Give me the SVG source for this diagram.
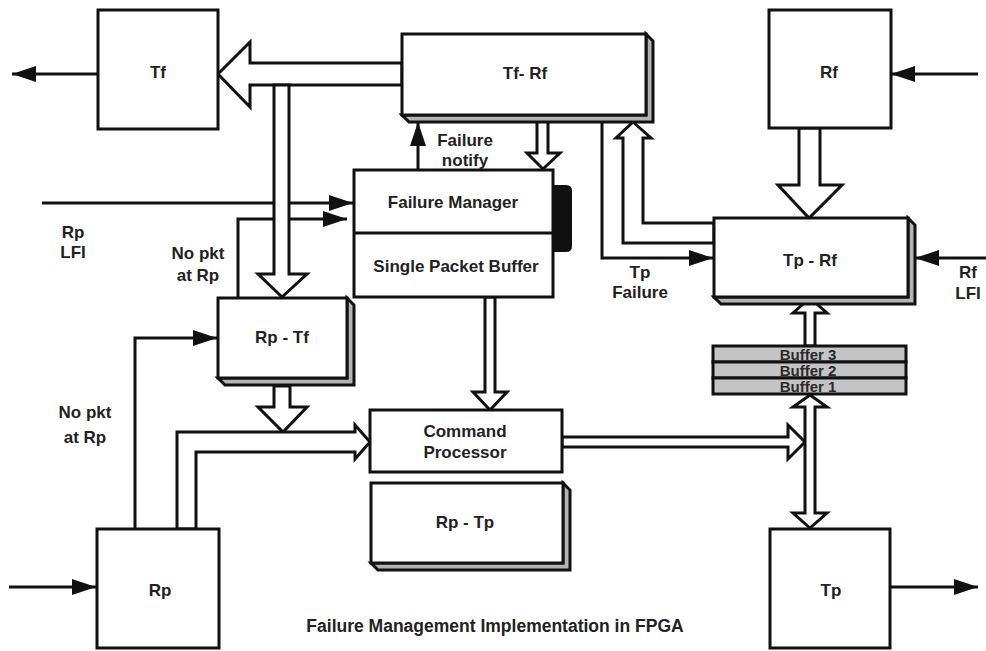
<svg xmlns="http://www.w3.org/2000/svg" width="986" height="651" viewBox="0 0 986 651">
  <style>
    .box { fill: #ffffff; stroke: #111111; stroke-width: 3; }
    .shadow { fill: #b4b4b4; stroke: #111111; stroke-width: 3; stroke-linejoin: miter; }
    .buf { fill: #c4c4c4; stroke: #111111; stroke-width: 3; }
    .wire { fill: none; stroke: #111111; stroke-width: 3; }
    .hollow { fill: #ffffff; stroke: #111111; stroke-width: 3; stroke-linejoin: miter; }
    .lbl { font-family: "Liberation Sans", Arial, sans-serif; font-weight: bold; font-size: 17px; fill: #222222; text-anchor: middle; dominant-baseline: central; }
    .small { font-size: 15px; fill: #2a2a2a; }
    .cap { font-size: 17.5px; }
  </style>
  <defs>
    <marker id="head" viewBox="0 0 24 16" refX="24" refY="8" markerWidth="24" markerHeight="16" markerUnits="userSpaceOnUse" orient="auto">
      <path d="M0,0 L24,8 L0,16 Z" fill="#111111"/>
    </marker>
  </defs>

  <rect width="986" height="651" fill="#ffffff"/>

  <!-- thin signal lines (drawn first so the wide data paths sit on top) -->
  <g id="connectors">
    <line class="wire" x1="98" y1="74" x2="12" y2="74" marker-end="url(#head)"/>
    <line class="wire" x1="978" y1="74" x2="891" y2="74" marker-end="url(#head)"/>
    <line class="wire" x1="42" y1="203" x2="353" y2="203" marker-end="url(#head)"/>
    <polyline class="wire" points="238,298 238,219 347,219" marker-end="url(#head)"/>
    <line class="wire" x1="418" y1="170" x2="418" y2="122" marker-end="url(#head)"/>
    <polyline class="wire" points="602,121 602,258 713,258" marker-end="url(#head)"/>
    <line class="wire" x1="986" y1="258" x2="915" y2="258" marker-end="url(#head)"/>
    <polyline class="wire" points="135,529 135,338 217,338" marker-end="url(#head)"/>
    <line class="wire" x1="9" y1="587" x2="96" y2="587" marker-end="url(#head)"/>
    <line class="wire" x1="890" y1="587" x2="978" y2="587" marker-end="url(#head)"/>

    <!-- wide data paths -->
    <polygon class="hollow" points="218,74 250,42 250,63 402,63 402,85 250,85 250,107"/>
    <polygon class="hollow" points="274,85 274,274 258,274 282,297 307,274 289,274 289,85"/>
    <polygon class="hollow" points="274,386 274,407 258,407 283,432 307,407 290,407 290,386"/>
    <polygon class="hollow" points="177,529 177,432 355,432 355,425 370,442 355,459 355,452 196,452 196,529"/>
    <polygon class="hollow" points="537,121 537,153 527,153 543,169 560,153 548,153 548,121"/>
    <polygon class="hollow" points="485,297 485,392 473,392 490,410 507,392 495,392 495,297"/>
    <polygon class="hollow" points="633,122 651,138 643,138 643,223 714,223 714,243 623,243 623,138 616,138"/>
    <polygon class="hollow" points="799,128 799,185 778,185 809,218 842,185 820,185 820,128"/>
    <polygon class="hollow" points="562,437 788,437 788,425 805,442 788,459 788,447 562,447"/>
    <polygon class="hollow" points="810,395 827,407 815,407 815,513 827,513 810,528 793,513 805,513 805,407 793,407"/>
    <polygon class="hollow" points="805,346 805,313 793,313 810,298 827,313 815,313 815,346"/>
  </g>

  <g id="tf">
    <rect class="box" x="98" y="10" width="120" height="119"/>
    <text class="lbl" x="158" y="72">Tf</text>
  </g>

  <g id="tf-rf">
    <polygon class="shadow" points="646,34 653,41 653,122 409,122 402,115 646,115"/>
    <rect class="box" x="402" y="34" width="244" height="81"/>
    <text class="lbl" x="525" y="73">Tf- Rf</text>
  </g>

  <g id="rf">
    <rect class="box" x="769" y="10" width="122" height="118"/>
    <text class="lbl" x="829" y="72">Rf</text>
  </g>

  <g id="failure-manager">
    <path d="M553,185 H566 Q572,185 572,191 V246 Q572,252 566,252 H553 Z" fill="#111111"/>
    <rect class="box" x="354" y="170" width="199" height="127"/>
    <line class="wire" x1="354" y1="233" x2="553" y2="233"/>
    <text class="lbl" x="453" y="202">Failure Manager</text>
    <text class="lbl" x="456" y="266">Single Packet Buffer</text>
  </g>

  <g id="tp-rf">
    <polygon class="shadow" points="908,218 915,225 915,304 721,304 714,297 908,297"/>
    <rect class="box" x="714" y="218" width="194" height="79"/>
    <text class="lbl" x="810" y="260">Tp - Rf</text>
  </g>

  <g id="rp-tf">
    <polygon class="shadow" points="347,298 354,305 354,385 225,385 218,378 347,378"/>
    <rect class="box" x="218" y="298" width="129" height="80"/>
    <text class="lbl" x="282" y="337">Rp - Tf</text>
  </g>

  <g id="buffers">
    <rect class="buf" x="713" y="346" width="193" height="16"/>
    <rect class="buf" x="713" y="362" width="193" height="16"/>
    <rect class="buf" x="713" y="378" width="193" height="16"/>
    <text class="lbl small" x="808" y="354">Buffer 3</text>
    <text class="lbl small" x="808" y="370">Buffer 2</text>
    <text class="lbl small" x="808" y="386">Buffer 1</text>
  </g>

  <g id="command-processor">
    <rect class="box" x="370" y="410" width="192" height="62"/>
    <text class="lbl" x="465" y="431">Command</text>
    <text class="lbl" x="465" y="452">Processor</text>
  </g>

  <g id="rp-tp">
    <polygon class="shadow" points="563,483 570,490 570,570 378,570 371,563 563,563"/>
    <rect class="box" x="371" y="483" width="192" height="80"/>
    <text class="lbl" x="465" y="522">Rp - Tp</text>
  </g>

  <g id="rp">
    <rect class="box" x="97" y="529" width="122" height="119"/>
    <text class="lbl" x="160" y="590">Rp</text>
  </g>

  <g id="tp">
    <rect class="box" x="770" y="529" width="120" height="119"/>
    <text class="lbl" x="831" y="590">Tp</text>
  </g>

  <!-- signal labels -->
  <g id="labels">
    <text class="lbl" x="465" y="140">Failure</text>
    <text class="lbl" x="465" y="160">notify</text>
    <text class="lbl" x="73" y="232">Rp</text>
    <text class="lbl" x="73" y="252">LFI</text>
    <text class="lbl" x="198" y="253">No pkt</text>
    <text class="lbl" x="198" y="275">at Rp</text>
    <text class="lbl" x="640" y="272">Tp</text>
    <text class="lbl" x="640" y="292">Failure</text>
    <text class="lbl" x="968" y="272">Rf</text>
    <text class="lbl" x="968" y="293">LFI</text>
    <text class="lbl" x="85" y="412">No pkt</text>
    <text class="lbl" x="85" y="437">at Rp</text>
    <text class="lbl cap" x="495" y="626">Failure Management Implementation in FPGA</text>
  </g>
</svg>
